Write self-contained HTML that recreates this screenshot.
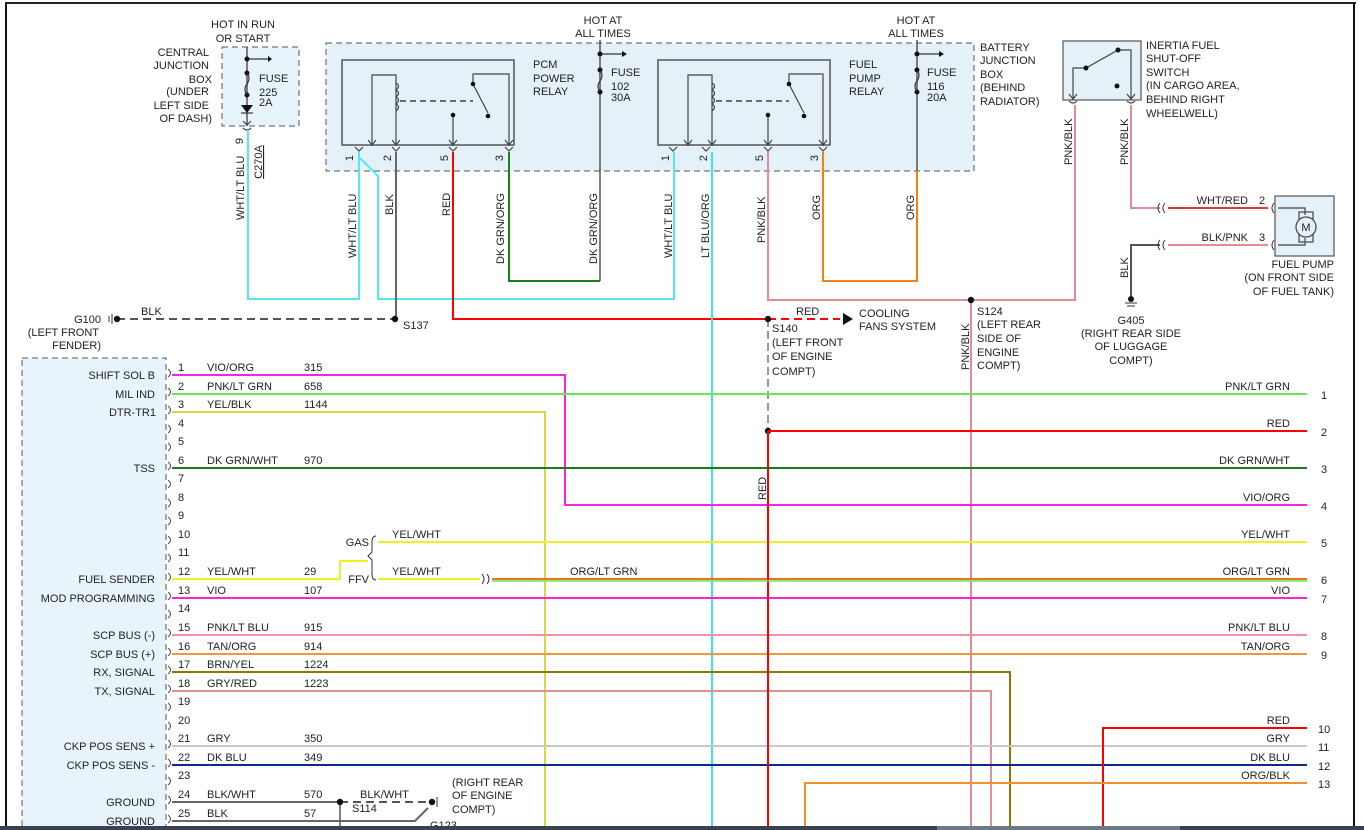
<!DOCTYPE html>
<html><head><meta charset="utf-8"><style>
html,body{margin:0;padding:0;background:#fff}
svg{display:block}
text{font-family:"Liberation Sans",Arial,sans-serif;font-size:11px;fill:#222}
.r{text-anchor:end}.m{text-anchor:middle}
</style></head><body>
<svg width="1364" height="830" viewBox="0 0 1364 830" xmlns="http://www.w3.org/2000/svg">
<rect width="1364" height="830" fill="#fff"/>
<line x1="5" y1="3" x2="1356" y2="3" stroke="#222" stroke-width="2"/>
<line x1="6" y1="3" x2="6" y2="826" stroke="#111" stroke-width="2"/>
<line x1="1354" y1="3" x2="1354" y2="826" stroke="#111" stroke-width="2"/>

<rect x="222" y="47" width="77" height="79" fill="#e8f4fc" stroke="#555" stroke-dasharray="6,4"/>
<rect x="326" y="43" width="648" height="128" fill="#e4f1f9" stroke="#555" stroke-dasharray="6,4"/>
<rect x="342" y="60" width="172" height="85" fill="none" stroke="#555" stroke-width="1.5"/>
<rect x="658" y="60" width="172" height="85" fill="none" stroke="#555" stroke-width="1.5"/>
<rect x="1063" y="41" width="78" height="59" fill="#e4f1f9" stroke="#555" stroke-width="1.2"/>
<rect x="1275" y="196" width="59" height="60" fill="#e4f1f9" stroke="#555" stroke-width="1.2"/>
<rect x="22" y="358" width="144" height="480" fill="#e8f4fc" stroke="#555" stroke-dasharray="6,4"/>

<text x="243" y="28" class="m">HOT IN RUN</text><text x="243" y="42" class="m">OR START</text>
<text x="209" y="56" class="r">CENTRAL</text><text x="209" y="69" class="r">JUNCTION</text><text x="212" y="83" class="r">BOX</text><text x="209" y="95" class="r">(UNDER</text><text x="209" y="109" class="r">LEFT SIDE</text><text x="212" y="122" class="r">OF DASH)</text>
<text x="259" y="82">FUSE</text><text x="259" y="96">225</text><text x="259" y="106">2A</text>
<text x="603" y="24" class="m">HOT AT</text><text x="603" y="37" class="m">ALL TIMES</text>
<text x="916" y="24" class="m">HOT AT</text><text x="916" y="37" class="m">ALL TIMES</text>
<text x="980" y="51">BATTERY</text><text x="980" y="64">JUNCTION</text><text x="980" y="78">BOX</text><text x="980" y="91">(BEHIND</text><text x="980" y="105">RADIATOR)</text>
<text x="533" y="68">PCM</text><text x="533" y="82">POWER</text><text x="533" y="95">RELAY</text>
<text x="849" y="68">FUEL</text><text x="849" y="82">PUMP</text><text x="849" y="95">RELAY</text>
<text x="611" y="76">FUSE</text><text x="611" y="90">102</text><text x="611" y="101">30A</text>
<text x="927" y="76">FUSE</text><text x="927" y="90">116</text><text x="927" y="101">20A</text>
<text x="1146" y="49">INERTIA FUEL</text><text x="1146" y="62">SHUT-OFF</text><text x="1146" y="76">SWITCH</text><text x="1146" y="89">(IN CARGO AREA,</text><text x="1146" y="103">BEHIND RIGHT</text><text x="1146" y="117">WHEELWELL)</text>
<text x="1334" y="268" class="r">FUEL PUMP</text><text x="1334" y="281" class="r">(ON FRONT SIDE</text><text x="1334" y="295" class="r">OF FUEL TANK)</text>
<text x="1131" y="324" class="m">G405</text><text x="1131" y="337" class="m">(RIGHT REAR SIDE</text><text x="1131" y="350" class="m">OF LUGGAGE</text><text x="1131" y="364" class="m">COMPT)</text>

<g stroke="#555" stroke-width="1.5" fill="none">
<line x1="247" y1="47" x2="247" y2="126"/><line x1="247" y1="59" x2="268" y2="59"/>
<line x1="600" y1="40" x2="600" y2="281"/><line x1="600" y1="54" x2="622" y2="54"/>
<line x1="917" y1="40" x2="917" y2="171"/><line x1="917" y1="54" x2="939" y2="54"/>
</g>
<g fill="#111">
<circle cx="247" cy="59" r="2.5"/><circle cx="247" cy="73" r="2.5"/><circle cx="247" cy="95" r="2.5"/><polygon points="241,105 253,105 247,113"/><polygon points="268,56 272,59 268,62"/>
<circle cx="600" cy="54" r="2.5"/><polygon points="622,51 627,54 622,57"/><circle cx="600" cy="70" r="2.5"/><circle cx="600" cy="92" r="2.5"/>
<circle cx="917" cy="54" r="2.5"/><polygon points="939,51 944,54 939,57"/><circle cx="917" cy="70" r="2.5"/><circle cx="917" cy="92" r="2.5"/>
</g>
<g stroke="#333" stroke-width="1.2" fill="none">
<path d="M247,73 q4,5 0,11 q-4,5 0,11"/><path d="M600,70 q4,5 0,11 q-4,5 0,11"/><path d="M917,70 q4,5 0,11 q-4,5 0,11"/>
<line x1="241" y1="113" x2="253" y2="113"/>
</g>

<g stroke="#444" stroke-width="1.2" fill="none">
<path d="M372,146 V75 H396 V146"/><path d="M396,83 q5,3 0,7 q5,3 0,7 q5,3 0,7 q5,3 0,7"/>
<line x1="400" y1="101" x2="473" y2="101" stroke-dasharray="6,4" stroke-width="1.5"/>
<path d="M509,146 V74 H473 V84 L488,113"/><line x1="453" y1="115" x2="453" y2="146"/>
<path d="M688,146 V75 H712 V146"/><path d="M712,83 q5,3 0,7 q5,3 0,7 q5,3 0,7 q5,3 0,7"/>
<line x1="716" y1="101" x2="789" y2="101" stroke-dasharray="6,4" stroke-width="1.5"/>
<path d="M823,146 V74 H789 V84 L804,113"/><line x1="768" y1="115" x2="768" y2="146"/>
<!-- pin arrows -->
<path d="M368,140 l4,5 l4,-5 M392,140 l4,5 l4,-5 M449,140 l4,5 l4,-5 M505,140 l4,5 l4,-5 M684,140 l4,5 l4,-5 M708,140 l4,5 l4,-5 M764,140 l4,5 l4,-5 M819,140 l4,5 l4,-5"/>
<path d="M355,147 l4,4 l4,-4 M392,147 l4,4 l4,-4 M449,147 l4,4 l4,-4 M505,147 l4,4 l4,-4 M669,147 l4,4 l4,-4 M702,147 l4,4 l4,-4 M764,147 l4,4 l4,-4 M819,147 l4,4 l4,-4"/>
<path d="M243,121 l4,4 l4,-4 M243,128 q4,4 8,0 M1069,94 l4,5 l4,-5 M1127,94 l4,5 l4,-5 M1069,101 q4,4 8,0 M1127,101 q4,4 8,0"/>
</g>
<g fill="#111"><circle cx="473" cy="84" r="2.3"/><circle cx="488" cy="116" r="2.3"/><circle cx="453" cy="115" r="2.3"/>
<circle cx="789" cy="84" r="2.3"/><circle cx="804" cy="116" r="2.3"/><circle cx="768" cy="115" r="2.3"/></g>
<g font-size="10">
<text transform="translate(353,158) rotate(-90)" class="m">1</text><text transform="translate(391,158) rotate(-90)" class="m">2</text><text transform="translate(448,158) rotate(-90)" class="m">5</text><text transform="translate(503,158) rotate(-90)" class="m">3</text>
<text transform="translate(669,158) rotate(-90)" class="m">1</text><text transform="translate(707,158) rotate(-90)" class="m">2</text><text transform="translate(763,158) rotate(-90)" class="m">5</text><text transform="translate(818,158) rotate(-90)" class="m">3</text>
<text transform="translate(243,141) rotate(-90)" class="m">9</text>
</g>
<text transform="translate(262,162) rotate(-90)" class="m" text-decoration="underline">C270A</text>

<g stroke="#444" stroke-width="1.2" fill="none"><path d="M1073,100 V68 H1086 L1118,50 H1131 V100"/></g>
<g fill="#111"><circle cx="1086" cy="68" r="2.5"/><circle cx="1118" cy="50" r="2.5"/><circle cx="1117" cy="86" r="2.5"/></g>
<g stroke="#444" stroke-width="1.2" fill="none"><path d="M1278,208 H1305 V215 M1278,245 H1305 V238"/><rect x="1299" y="212" width="14" height="30"/><circle cx="1306" cy="227" r="10" fill="#e4f1f9"/></g>
<text x="1306" y="231" class="m">M</text>

<g fill="none" stroke-width="2">
<path d="M248,130 V299 H359 V152" stroke="#55e6ee"/>
<path d="M360,158 L378,176 V299 H674 V152" stroke="#55e6ee"/>
<path d="M396,152 V319" stroke="#666"/>
<path d="M453,152 V319 H768" stroke="#f00"/>
<path d="M509,152 V281 H600" stroke="#188018"/>
<path d="M712,152 V826" stroke="#44e0ea"/>
<path d="M768,152 V300 H1075 V105" stroke="#e88a96"/>
<path d="M971,300 V826" stroke="#e88a96"/>
<path d="M823,152 V281 H917 V171" stroke="#f88010"/>
<path d="M1131,105 V208 H1160" stroke="#e88a96"/>
<path d="M1168,208 H1268" stroke="#e33"/>
<path d="M1168,245 H1268" stroke="#e88a96"/>
<path d="M1131,296 V245 H1160" stroke="#555"/>
</g>
<line x1="117" y1="319" x2="395" y2="319" stroke="#555" stroke-width="2" stroke-dasharray="8,5"/>
<line x1="768" y1="319" x2="840" y2="319" stroke="#f00" stroke-width="2" stroke-dasharray="8,5"/>
<polygon points="843,313 853,319 843,325" fill="#111"/>
<line x1="768" y1="319" x2="768" y2="431" stroke="#333" stroke-width="1" stroke-dasharray="8,4"/>
<g fill="#111"><circle cx="395" cy="319" r="3.2"/><circle cx="117" cy="319" r="3.2"/><circle cx="768" cy="319" r="3.2"/><circle cx="971" cy="300" r="3.2"/><circle cx="768" cy="431" r="3.2"/><circle cx="1131" cy="299" r="3"/></g>
<g stroke="#333" stroke-width="1"><line x1="112" y1="314" x2="112" y2="324"/><line x1="109" y1="316" x2="109" y2="322"/><line x1="1125" y1="303" x2="1137" y2="303"/><line x1="1127" y1="306" x2="1135" y2="306"/>
<path d="M1165,203 q-4,5 0,10 M1160,203 q-4,5 0,10 M1165,240 q-4,5 0,10 M1160,240 q-4,5 0,10 M1274,203 q-4,5 0,10 M1274,240 q-4,5 0,10" fill="none"/></g>
<text x="1248" y="204" class="r">WHT/RED</text><text x="1259" y="204">2</text>
<text x="1248" y="241" class="r">BLK/PNK</text><text x="1259" y="241">3</text>
<text transform="translate(1072,165) rotate(-90)">PNK/BLK</text><text transform="translate(1128,165) rotate(-90)">PNK/BLK</text>
<text transform="translate(1128,278) rotate(-90)">BLK</text>
<text x="141" y="315">BLK</text><text x="101" y="323" class="r">G100</text><text x="99" y="336" class="r">(LEFT FRONT</text><text x="101" y="349" class="r">FENDER)</text>
<text x="403" y="329">S137</text>
<text x="796" y="315">RED</text><text x="859" y="317">COOLING</text><text x="859" y="330">FANS SYSTEM</text>
<text x="772" y="332">S140</text><text x="772" y="346">(LEFT FRONT</text><text x="772" y="360">OF ENGINE</text><text x="772" y="375">COMPT)</text>
<text x="977" y="315">S124</text><text x="977" y="328">(LEFT REAR</text><text x="977" y="342">SIDE OF</text><text x="977" y="356">ENGINE</text><text x="977" y="369">COMPT)</text>
<text transform="translate(969,370) rotate(-90)">PNK/BLK</text>
<text transform="translate(244,220) rotate(-90)">WHT/LT BLU</text>
<text transform="translate(356,258) rotate(-90)">WHT/LT BLU</text>
<text transform="translate(393,215) rotate(-90)">BLK</text>
<text transform="translate(450,216) rotate(-90)">RED</text>
<text transform="translate(504,264) rotate(-90)">DK GRN/ORG</text>
<text transform="translate(597,264) rotate(-90)">DK GRN/ORG</text>
<text transform="translate(672,258) rotate(-90)">WHT/LT BLU</text>
<text transform="translate(709,258) rotate(-90)">LT BLU/ORG</text>
<text transform="translate(765,243) rotate(-90)">PNK/BLK</text>
<text transform="translate(820,220) rotate(-90)">ORG</text>
<text transform="translate(914,220) rotate(-90)">ORG</text>
<text transform="translate(766,500) rotate(-90)">RED</text>

<g fill="none" stroke-width="2">
<path d="M172,375 H565 V505 H1307" stroke="#ff22dd"/>
<path d="M172,394 H1307" stroke="#66e855"/>
<path d="M172,412 H545 V826" stroke="#d8d840"/>
<path d="M172,468 H1307" stroke="#1b7a1b"/>
<path d="M172,579 H340 V561 H368" stroke="#f0f020"/>
<path d="M378,542 H1307" stroke="#f0f020"/>
<path d="M378,579 H480" stroke="#f0f020"/>
<path d="M492,579 H1307" stroke="#f07020"/>
<path d="M172,598 H1307" stroke="#ff22dd"/>
<path d="M172,635 H1307" stroke="#f090a8"/>
<path d="M172,654 H1307" stroke="#e89a40"/>
<path d="M172,672 H1010 V826" stroke="#8c7a00"/>
<path d="M172,691 H991 V826" stroke="#e09090"/>
<path d="M172,746 H1307" stroke="#c8c8c8"/>
<path d="M172,765 H1307" stroke="#0a2a8a"/>
<path d="M172,802 H340" stroke="#666"/>
<path d="M172,821 H415 L428,808" stroke="#666"/>
<path d="M768,431 H1307 M768,431 V826" stroke="#f00"/>
<path d="M1103,826 V728 H1307" stroke="#f00"/>
<path d="M805,826 V783 H1307" stroke="#f09030"/>
</g>
<line x1="492" y1="581" x2="1307" y2="581" stroke="#66e855" stroke-width="1.5"/>
<line x1="340" y1="802" x2="428" y2="802" stroke="#555" stroke-width="2" stroke-dasharray="8,5"/>
<line x1="340" y1="802" x2="340" y2="826" stroke="#555" stroke-width="1.5"/>
<circle cx="340" cy="802" r="3.2" fill="#111"/><circle cx="432" cy="802" r="3.2" fill="#111"/>
<line x1="437" y1="797" x2="437" y2="807" stroke="#333"/>
<g stroke="#333" fill="none" stroke-width="1"><path d="M376,536 q-4,0 -4,6 v10 l-4,4 l4,4 v14 q0,6 4,6"/><path d="M482,574 q4,5 0,10 M487,574 q4,5 0,10"/></g>
<text x="369" y="546" class="r">GAS</text><text x="369" y="583" class="r">FFV</text>
<text x="392" y="538">YEL/WHT</text><text x="392" y="575">YEL/WHT</text><text x="570" y="575">ORG/LT GRN</text>
<text x="360" y="798">BLK/WHT</text><text x="352" y="812">S114</text>
<text x="452" y="786">(RIGHT REAR</text><text x="452" y="799">OF ENGINE</text><text x="452" y="813">COMPT)</text><text x="430" y="829">G123</text>

<g stroke="#444" fill="none" stroke-width="1">
<path d="M168,369 q5,4 0,8 M168,388 q5,4 0,8 M168,406 q5,4 0,8 M168,425 q5,4 0,8 M168,443 q5,4 0,8 M168,462 q5,4 0,8 M168,480 q5,4 0,8 M168,499 q5,4 0,8 M168,517 q5,4 0,8 M168,536 q5,4 0,8 M168,554 q5,4 0,8 M168,573 q5,4 0,8 M168,592 q5,4 0,8 M168,610 q5,4 0,8 M168,629 q5,4 0,8 M168,648 q5,4 0,8 M168,666 q5,4 0,8 M168,685 q5,4 0,8 M168,703 q5,4 0,8 M168,722 q5,4 0,8 M168,740 q5,4 0,8 M168,759 q5,4 0,8 M168,777 q5,4 0,8 M168,796 q5,4 0,8 M168,815 q5,4 0,8"/>
</g>
<g>
<text x="178" y="371">1</text><text x="178" y="390">2</text><text x="178" y="408">3</text><text x="178" y="427">4</text><text x="178" y="445">5</text><text x="178" y="464">6</text><text x="178" y="482">7</text><text x="178" y="501">8</text><text x="178" y="519">9</text><text x="178" y="538">10</text><text x="178" y="556">11</text><text x="178" y="575">12</text><text x="178" y="594">13</text><text x="178" y="612">14</text><text x="178" y="631">15</text><text x="178" y="650">16</text><text x="178" y="668">17</text><text x="178" y="687">18</text><text x="178" y="705">19</text><text x="178" y="724">20</text><text x="178" y="742">21</text><text x="178" y="761">22</text><text x="178" y="779">23</text><text x="178" y="798">24</text><text x="178" y="817">25</text>
<text x="207" y="371">VIO/ORG</text><text x="304" y="371">315</text>
<text x="207" y="390">PNK/LT GRN</text><text x="304" y="390">658</text>
<text x="207" y="408">YEL/BLK</text><text x="304" y="408">1144</text>
<text x="207" y="464">DK GRN/WHT</text><text x="304" y="464">970</text>
<text x="207" y="575">YEL/WHT</text><text x="304" y="575">29</text>
<text x="207" y="594">VIO</text><text x="304" y="594">107</text>
<text x="207" y="631">PNK/LT BLU</text><text x="304" y="631">915</text>
<text x="207" y="650">TAN/ORG</text><text x="304" y="650">914</text>
<text x="207" y="668">BRN/YEL</text><text x="304" y="668">1224</text>
<text x="207" y="687">GRY/RED</text><text x="304" y="687">1223</text>
<text x="207" y="742">GRY</text><text x="304" y="742">350</text>
<text x="207" y="761">DK BLU</text><text x="304" y="761">349</text>
<text x="207" y="798">BLK/WHT</text><text x="304" y="798">570</text>
<text x="207" y="817">BLK</text><text x="304" y="817">57</text>
</g>
<g>
<text x="155" y="379" class="r">SHIFT SOL B</text><text x="155" y="398" class="r">MIL IND</text><text x="156" y="416" class="r">DTR-TR1</text><text x="155" y="472" class="r">TSS</text><text x="155" y="583" class="r">FUEL SENDER</text><text x="155" y="602" class="r">MOD PROGRAMMING</text><text x="155" y="639" class="r">SCP BUS (-)</text><text x="155" y="658" class="r">SCP BUS (+)</text><text x="155" y="676" class="r">RX, SIGNAL</text><text x="155" y="695" class="r">TX, SIGNAL</text><text x="155" y="750" class="r">CKP POS SENS +</text><text x="155" y="769" class="r">CKP POS SENS -</text><text x="155" y="806" class="r">GROUND</text><text x="155" y="825" class="r">GROUND</text>
</g>
<g>
<text x="1290" y="390" class="r">PNK/LT GRN</text><text x="1290" y="427" class="r">RED</text><text x="1290" y="464" class="r">DK GRN/WHT</text><text x="1290" y="501" class="r">VIO/ORG</text><text x="1290" y="538" class="r">YEL/WHT</text><text x="1290" y="575" class="r">ORG/LT GRN</text><text x="1290" y="594" class="r">VIO</text><text x="1290" y="631" class="r">PNK/LT BLU</text><text x="1290" y="650" class="r">TAN/ORG</text><text x="1290" y="724" class="r">RED</text><text x="1290" y="742" class="r">GRY</text><text x="1290" y="761" class="r">DK BLU</text><text x="1290" y="779" class="r">ORG/BLK</text>
<text x="1321" y="399">1</text><text x="1321" y="436">2</text><text x="1321" y="473">3</text><text x="1321" y="510">4</text><text x="1321" y="547">5</text><text x="1321" y="584">6</text><text x="1321" y="603">7</text><text x="1321" y="640">8</text><text x="1321" y="659">9</text><text x="1318" y="733">10</text><text x="1318" y="751">11</text><text x="1318" y="770">12</text><text x="1318" y="788">13</text>
</g>
<rect x="0" y="826" width="1364" height="4" fill="#3a4250"/>
<rect x="937" y="826" width="243" height="4" fill="#6c7a86"/>
</svg>
</body></html>
